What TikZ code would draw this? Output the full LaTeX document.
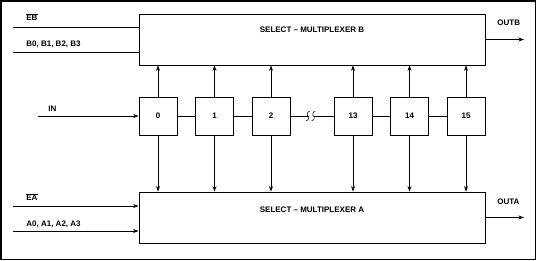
\documentclass[tikz,border=0pt]{standalone}
\usepackage{fontspec}
\setmainfont{Liberation Sans}
\usetikzlibrary{positioning, arrows.meta}

\tikzset{
    cell/.style={draw, line width=0.8pt, minimum size=38pt, inner sep=0pt},
    muxbox/.style={draw, line width=0.8pt, minimum width=346pt, minimum height=51pt, inner sep=0pt},
    sig/.style={anchor=base west, inner sep=0pt}
}

\begin{document}
\begin{tikzpicture}[>={Stealth[length=5.5pt, width=4pt]}, x=1pt, y=-1pt, line width=0.8pt, font=\fontsize{8}{9}\selectfont\bfseries]
    \useasboundingbox (0,0) rectangle (537,261);
    % Outer frame
    \draw[line width=1.6pt] (1,1) rectangle (535.5,259.5);

    % Multiplexers
    \node[muxbox, label={[anchor=base, yshift=-19pt]north:SELECT -- MULTIPLEXER B}] (muxB) at (312,39.5) {};
    \node[muxbox, label={[anchor=base, yshift=-20.7pt]north:SELECT -- MULTIPLEXER A}] (muxA) at (312,217.5) {};

    % Register cells
    \foreach \n/\x in {0/158, 1/214.5, 2/271, 13/353, 14/409.5, 15/466} {
        \node[cell] (c\n) at (\x,116) {\n};
        \draw[->] (c\n) -- (c\n |- muxB.south);
        \draw[->] (c\n) -- (c\n |- muxA.north);
    }

    % Chain between cells
    \draw (c0) -- (c1);
    \draw (c1) -- (c2);
    \draw (c13) -- (c14);
    \draw (c14) -- (c15);
    \coordinate (brk1) at (308,116);
    \coordinate (brk2) at (313.5,116);
    \draw (c2) -- (brk1);
    \draw (brk2) -- (c13);
    % Break mark
    \foreach \b in {brk1, brk2} {
        \draw[line width=0.6pt] ([shift={(1.8,-4.5)}]\b) .. controls ([shift={(-1.2,-5)}]\b) and ([shift={(-1.2,0)}]\b) .. (\b)
            .. controls ([shift={(1.2,0)}]\b) and ([shift={(1.2,5)}]\b) .. ([shift={(-1.8,4.5)}]\b);
    }

    % Inputs
    \coordinate (ebin) at (13,27);
    \coordinate (bin) at (13,52);
    \coordinate (inp) at (38,116);
    \coordinate (eain) at (13,206);
    \coordinate (ain) at (13,231);
    \draw (ebin) -- (ebin -| muxB.west);
    \draw (bin) -- (bin -| muxB.west);
    \draw[->] (inp) -- (c0);
    \draw[->] (eain) -- (eain -| muxA.west);
    \draw[->] (ain) -- (ain -| muxA.west);

    % Outputs
    \coordinate (outb) at (524,39.5);
    \coordinate (outa) at (524,217.5);
    \draw[->] (muxB) -- (outb);
    \draw[->] (muxA) -- (outa);

    % Labels
    \node[sig] (lEB) at (26,21) {$\overline{\mbox{EB}}$};
    \node[sig] (lB) at (26,46.5) {B0, B1, B2, B3};
    \node[sig] (lIN) at (48,112) {IN};
    \node[sig] (lEA) at (26,201) {$\overline{\mbox{EA}}$};
    \node[sig] (lA) at (26,226.5) {A0, A1, A2, A3};
    \node[sig] (lOB) at (497,26) {OUTB};
    \node[sig] (lOA) at (497,205) {OUTA};
\end{tikzpicture}
\end{document}
